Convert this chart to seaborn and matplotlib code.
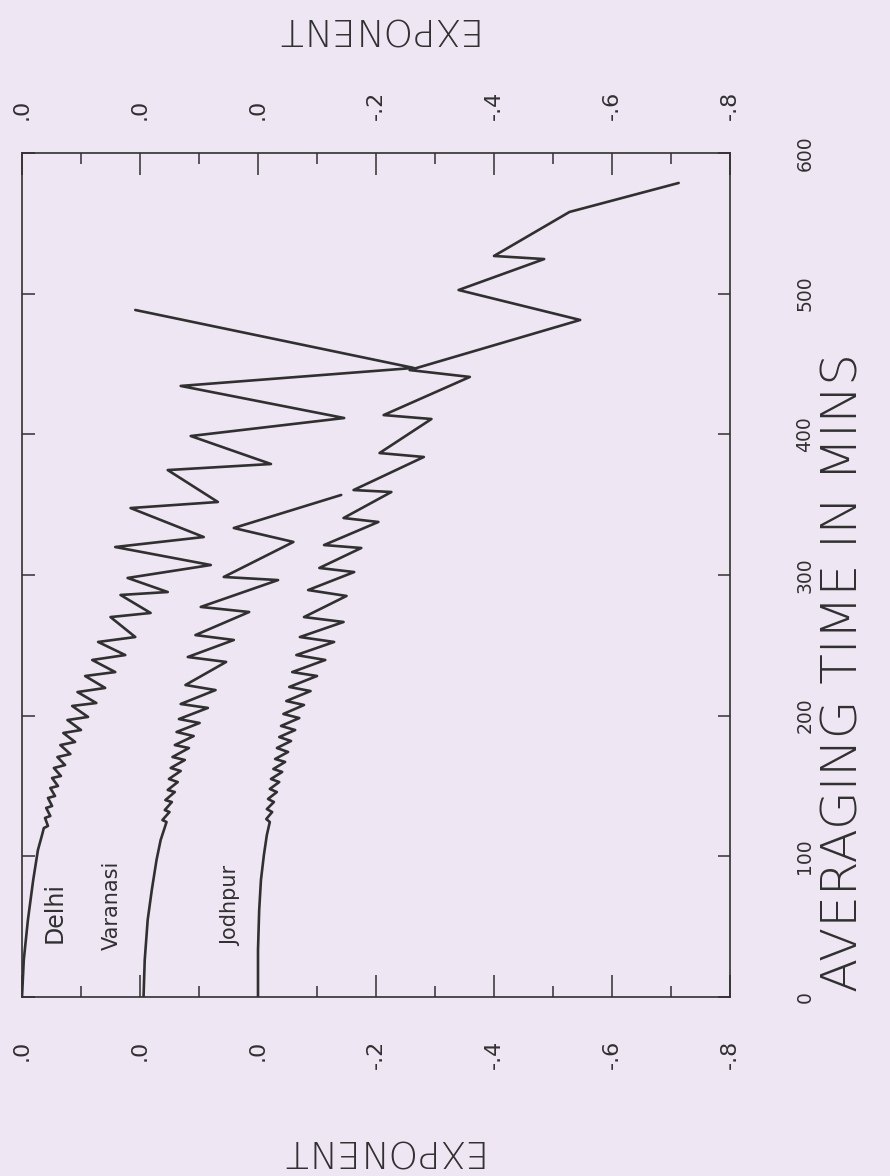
import numpy as np
import pandas as pd
import matplotlib
matplotlib.use("Agg")
import matplotlib.pyplot as plt
import seaborn as sns

# averaging time (min) and exponent
delhi_time = [0, 26.3, 54.7, 83.2, 104.5, 115.2,
              120.1, 121.6, 127.3, 128.7, 134.4, 135.8, 141.5, 142.9, 148.6, 150.0,
              155.7, 157.1, 162.8, 164.9, 170.6, 172.7, 179.1, 181.3, 187.7, 189.8,
              196.9, 199.1, 206.9, 209.0, 216.8, 219.7, 228.2, 231.0, 239.6, 243.1,
              252.4, 255.9, 270.1, 273.0, 285.8, 287.9, 297.9, 307.1, 319.9, 327.0,
              347.6, 351.9, 374.6, 378.9, 398.8, 411.6, 434.4, 447.2, 488.4]
delhi_exp = [0, -0.003, -0.010, -0.019, -0.027, -0.034,
             -0.037, -0.044, -0.039, -0.048, -0.041, -0.051, -0.044, -0.056, -0.048, -0.061,
             -0.051, -0.066, -0.054, -0.073, -0.060, -0.082, -0.065, -0.090, -0.070, -0.100,
             -0.077, -0.112, -0.085, -0.126, -0.094, -0.141, -0.107, -0.158, -0.119, -0.175,
             -0.129, -0.192, -0.150, -0.218, -0.167, -0.247, -0.179, -0.320, -0.158, -0.308,
             -0.184, -0.332, -0.247, -0.422, -0.286, -0.546, -0.269, -0.664, -0.192]

varanasi_time = [0, 26.3, 54.7, 76.1, 97.4, 111.6,
                 124.4, 125.8, 131.5, 132.9, 138.6, 140.0, 145.7, 147.2, 152.8, 155.0,
                 160.7, 162.8, 168.5, 170.6, 177.0, 179.1, 185.5, 188.4, 194.8, 197.6,
                 205.5, 208.3, 218.2, 221.8, 238.2, 241.7, 253.8, 257.3, 273.7, 277.3,
                 296.4, 298.6, 323.5, 333.4, 356.9]
varanasi_exp = [-0.006, -0.008, -0.013, -0.020, -0.028, -0.035,
                -0.045, -0.038, -0.050, -0.042, -0.054, -0.043, -0.059, -0.047, -0.064, -0.049,
                -0.069, -0.052, -0.076, -0.055, -0.083, -0.059, -0.091, -0.062, -0.101, -0.066,
                -0.115, -0.069, -0.128, -0.077, -0.146, -0.081, -0.159, -0.094, -0.185, -0.103,
                -0.234, -0.142, -0.260, -0.159, -0.341]

jodhpur_time = [0, 33.4, 61.8, 83.2, 101.0, 115.2,
                124.4, 126.5, 131.5, 133.6, 138.6, 140.8, 145.7, 147.9, 152.8, 155.0,
                160.0, 162.1, 167.1, 169.2, 174.2, 177.0, 182.0, 184.8, 189.8, 192.7,
                198.3, 201.2, 207.6, 210.4, 217.5, 220.4, 228.2, 231.0, 239.6, 243.1,
                252.4, 255.9, 266.6, 270.1, 285.1, 289.3, 302.1, 305.0, 319.2, 321.3,
                337.7, 340.5, 359.0, 360.4, 383.9, 386.7, 410.9, 413.7, 440.8, 445.7,
                481.3, 502.6, 524.6, 526.8, 558.1, 578.7]
jodhpur_exp = [0, 0, -0.002, -0.005, -0.010, -0.015,
               -0.020, -0.014, -0.024, -0.015, -0.027, -0.017, -0.032, -0.020, -0.036, -0.022,
               -0.041, -0.026, -0.046, -0.029, -0.051, -0.032, -0.056, -0.036, -0.063, -0.039,
               -0.070, -0.043, -0.078, -0.048, -0.089, -0.053, -0.100, -0.058, -0.114, -0.065,
               -0.129, -0.071, -0.145, -0.078, -0.150, -0.085, -0.163, -0.104, -0.175, -0.112,
               -0.204, -0.145, -0.226, -0.162, -0.281, -0.206, -0.294, -0.213, -0.359, -0.257,
               -0.546, -0.340, -0.485, -0.400, -0.528, -0.713]

# each city is drawn shifted along the exponent axis
offsets = {"Delhi": 0.0, "Varanasi": -0.2, "Jodhpur": -0.4}
exp_ticks = [0, -0.2, -0.4, -0.6, -0.8, -1.0, -1.2]
exp_labels = [".0", ".0", ".0", "-.2", "-.4", "-.6", "-.8"]
time_ticks = [0, 100, 200, 300, 400, 500, 600]

paper = "#efe6f4"
ink = "#303030"
thin = 200  # plotter pen look for the big titles

sns.set_theme(style="white")
plt.rcParams["font.family"] = ["DejaVu Sans"]

fig = plt.figure(figsize=(8.9, 11.76), dpi=100, facecolor=paper)
ax = fig.add_axes([22 / 890, 1 - 997 / 1176, 708 / 890, 844 / 1176])
ax.set_facecolor(paper)

curves = [("Delhi", delhi_time, delhi_exp),
          ("Varanasi", varanasi_time, varanasi_exp),
          ("Jodhpur", jodhpur_time, jodhpur_exp)]
for name, tt, ee in curves:
    df = pd.DataFrame({"time": tt, "exp": np.array(ee) + offsets[name]})
    sns.lineplot(data=df, x="exp", y="time", sort=False, estimator=None,
                 color=ink, lw=1.9, ax=ax, legend=False)

ax.set_xlim(0, -1.2)
ax.set_ylim(0, 600)
ax.set_xlabel("")
ax.set_ylabel("")

# exponent axis (horizontal), ticks inside on both sides
ax.set_xticks(exp_ticks)
ax.set_xticks([-0.1, -0.3, -0.5, -0.7, -0.9, -1.1], minor=True)
ax.set_xticklabels(exp_labels)
ax.tick_params(axis="x", which="major", direction="in", length=16, width=1.1, color=ink,
               top=True, bottom=True, labeltop=False, labelbottom=True,
               labelrotation=90, pad=31, labelsize=16, labelcolor=ink)
ax.tick_params(axis="x", which="minor", direction="in", length=8, width=1.1, color=ink,
               top=True, bottom=True)

top = ax.secondary_xaxis("top")
top.set_xticks(exp_ticks)
top.set_xticklabels(exp_labels)
top.tick_params(axis="x", which="major", length=0, labelrotation=90, pad=24,
                labelsize=16, labelcolor=ink)
top.spines["top"].set_visible(False)

# time axis (vertical)
ax.set_yticks(time_ticks)
ax.set_yticklabels([str(v) for v in time_ticks])
ax.tick_params(axis="y", direction="in", length=9, width=1.1, color=ink,
               left=True, right=True, labelleft=False, labelright=True,
               labelrotation=90, pad=47, labelsize=13.5, labelcolor=ink)
for lab in ax.get_yticklabels():
    lab.set_verticalalignment("center")

for sp in ax.spines.values():
    sp.set_color(ink)
    sp.set_linewidth(1.2)

# city names beside the curves
ax.text(-0.056, 60, "Delhi", rotation=90, ha="center", va="center", fontsize=17, color=ink)
ax.text(-0.153, 65, "Varanasi", rotation=90, ha="center", va="center", fontsize=15, color=ink)
ax.text(-0.354, 65, "Jodhpur", rotation=90, ha="center", va="center", fontsize=15, color=ink)

fig.text(843 / 890, 1 - 672 / 1176, "AVERAGING TIME IN MINS", rotation=90,
         ha="center", va="center", fontsize=36, fontweight=thin, color=ink)
fig.text(373 / 890, 1 - 28 / 1176, "EXPONENT", rotation=180,
         ha="center", va="center", fontsize=27, fontweight=thin, color=ink)
fig.text(378 / 890, 1 - 1150 / 1176, "EXPONENT", rotation=180,
         ha="center", va="center", fontsize=27, fontweight=thin, color=ink)

fig.savefig("out.png", dpi=100, facecolor=paper)
